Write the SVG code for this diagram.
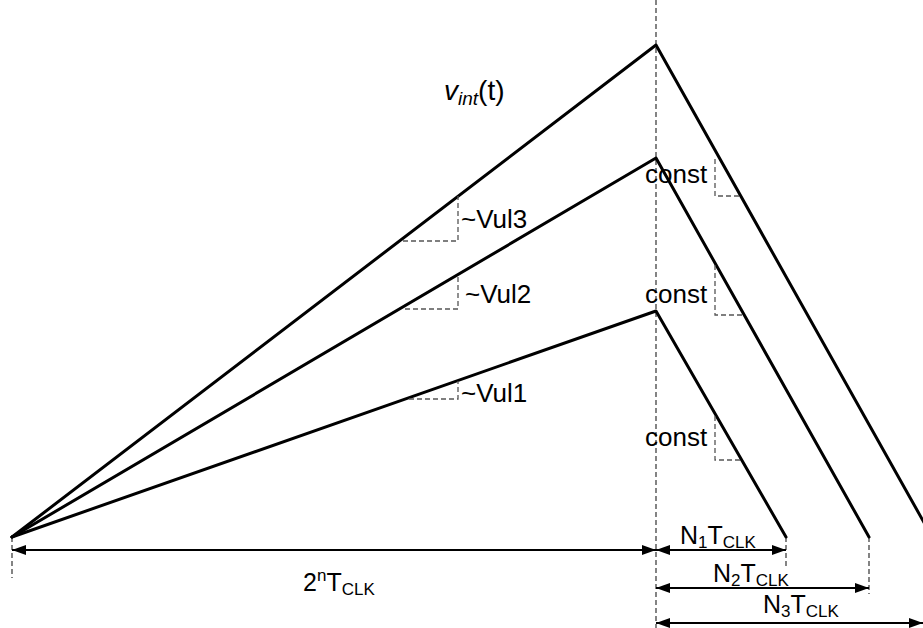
<svg xmlns="http://www.w3.org/2000/svg" width="923" height="628" viewBox="0 0 923 628">
<style>
.ramp{stroke:#000;stroke-width:3;fill:none;stroke-linecap:round;stroke-linejoin:round}
.guide{stroke:#333;stroke-width:1.2;fill:none;stroke-dasharray:5 3}
.slope{stroke:#555;stroke-width:1.3;fill:none;stroke-dasharray:5 3}
.dim{stroke:#000;stroke-width:1.8;fill:none;marker-start:url(#ah);marker-end:url(#ah)}
text{font-family:"Liberation Sans",Arial,sans-serif;font-size:25px;fill:#000}
.lbl{font-size:26px}
.sub{font-size:17px}
</style>
<defs>
<marker id="ah" markerUnits="userSpaceOnUse" markerWidth="14" markerHeight="10" refX="14" refY="5" orient="auto-start-reverse">
<path d="M0,0 L14,5 L0,10 z" fill="#000"/>
</marker>
</defs>
<g id="guides">
<line class="guide" x1="656" y1="0" x2="656" y2="628"/>
<line class="guide" x1="12" y1="537" x2="12" y2="578"/>
<line class="guide" x1="786" y1="537" x2="786" y2="568"/>
<line class="guide" x1="869" y1="537" x2="869" y2="594"/>
</g>
<g id="connectors">
<polyline id="ramp3" class="ramp" points="12,537 656,45 940,551"/>
<polyline id="ramp2" class="ramp" points="12,537 656,158 869,537"/>
<polyline id="ramp1" class="ramp" points="12,537 656,311 786,537"/>
<line class="dim" x1="12" y1="550" x2="656" y2="550"/>
<line class="dim" x1="656" y1="550" x2="786" y2="550"/>
<line class="dim" x1="656" y1="588" x2="869" y2="588"/>
<line class="dim" x1="656" y1="623" x2="923" y2="623"/>
</g>
<g id="slopes">
<polyline class="slope" points="403,241 458,241 458,196"/>
<polyline class="slope" points="405,309 458,309 458,275"/>
<polyline class="slope" points="409,399 458,399 458,381"/>
<polyline class="slope" points="715,159 715,196 740,196"/>
<polyline class="slope" points="715,265 715,315 742,315"/>
<polyline class="slope" points="715,416 715,460 740,460"/>
</g>
<g id="labels">
<text x="444" y="100" style="font-size:28px"><tspan font-style="italic">v</tspan><tspan font-style="italic" style="font-size:19px" dy="5">int</tspan><tspan dy="-5">(t)</tspan></text>
<text class="lbl" x="461" y="228">~Vul3</text>
<text class="lbl" x="465" y="303">~Vul2</text>
<text class="lbl" x="461" y="402">~Vul1</text>
<text class="lbl" x="645" y="183">const</text>
<text class="lbl" x="645" y="303">const</text>
<text class="lbl" x="645" y="446">const</text>
<text x="303" y="591">2<tspan class="sub" dy="-10">n</tspan><tspan dy="10">T</tspan><tspan class="sub" dy="4">CLK</tspan></text>
<text x="680" y="544">N<tspan class="sub" dy="4">1</tspan><tspan dy="-4">T</tspan><tspan class="sub" dy="4">CLK</tspan></text>
<text x="713" y="582">N<tspan class="sub" dy="4">2</tspan><tspan dy="-4">T</tspan><tspan class="sub" dy="4">CLK</tspan></text>
<text x="763" y="613">N<tspan class="sub" dy="4">3</tspan><tspan dy="-4">T</tspan><tspan class="sub" dy="4">CLK</tspan></text>
</g>
</svg>
